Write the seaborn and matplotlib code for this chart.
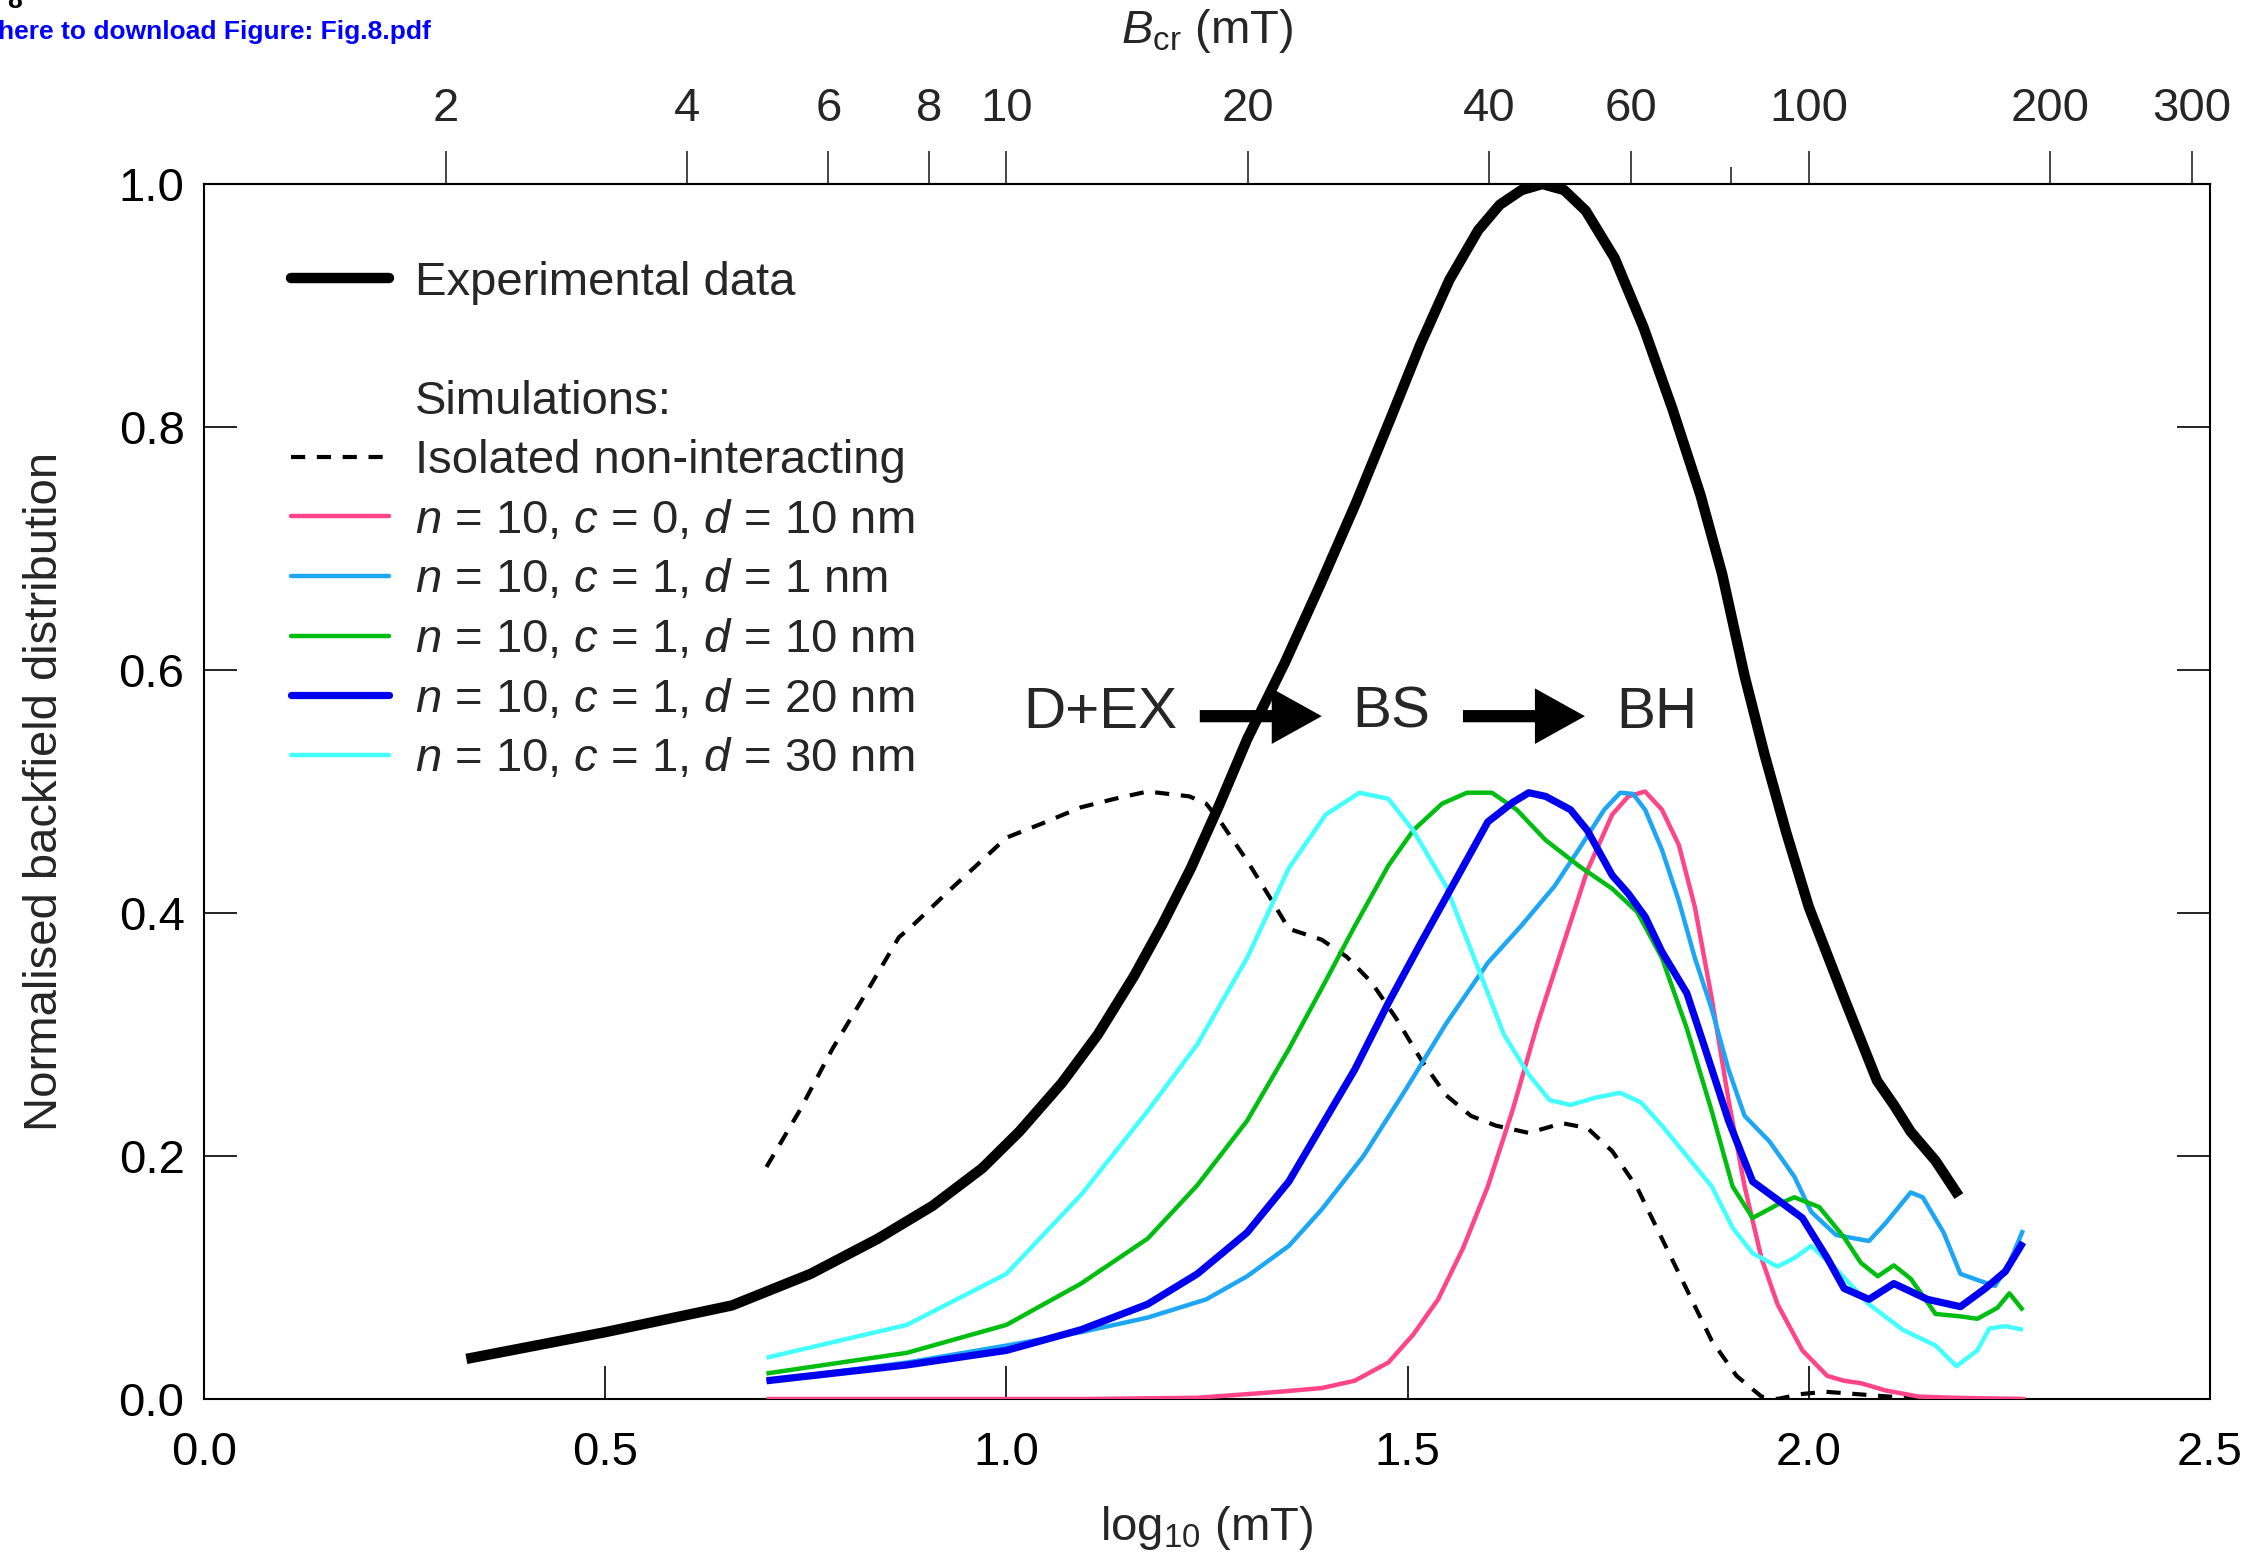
import numpy as np
import pandas as pd
import matplotlib
matplotlib.use("Agg")
import matplotlib.pyplot as plt
import seaborn as sns
from matplotlib.lines import Line2D
from matplotlib.ticker import FixedLocator, NullFormatter, FormatStrFormatter

# ---------------- data (x = log10 of field in mT) ----------------
exp_x = [0.327, 0.5, 0.658, 0.756, 0.84, 0.908, 0.97, 1.016, 1.069, 1.114, 1.159, 1.194,
         1.23, 1.266, 1.30, 1.347, 1.391, 1.436, 1.48, 1.516, 1.552, 1.588, 1.615, 1.642,
         1.668, 1.695, 1.722, 1.758, 1.794, 1.83, 1.865, 1.892, 1.92, 1.945, 1.972, 2.0,
         2.044, 2.085, 2.106, 2.127, 2.158, 2.187]
exp_y = [0.033, 0.055, 0.077, 0.103, 0.132, 0.159, 0.19, 0.22, 0.26, 0.30, 0.348, 0.39,
         0.437, 0.49, 0.543, 0.606, 0.67, 0.738, 0.809, 0.868, 0.921, 0.962, 0.983, 0.995,
         1.0, 0.995, 0.978, 0.939, 0.882, 0.815, 0.744, 0.679, 0.595, 0.53, 0.466, 0.405,
         0.33, 0.262, 0.242, 0.22, 0.196, 0.167]

iso_x = [0.701, 0.742, 0.783, 0.825, 0.866, 0.882, 0.928, 0.969, 1.0, 1.042, 1.093, 1.135,
         1.176, 1.228, 1.249, 1.269, 1.3, 1.331, 1.352, 1.393, 1.424, 1.455, 1.486, 1.517,
         1.548, 1.579, 1.61, 1.651, 1.693, 1.724, 1.755, 1.786, 1.817, 1.848, 1.879, 1.91,
         1.941, 1.961, 1.99, 2.02, 2.06, 2.1, 2.15, 2.2, 2.27]
iso_y = [0.191, 0.237, 0.288, 0.334, 0.380, 0.389, 0.418, 0.443, 0.462, 0.473, 0.487, 0.494,
         0.5, 0.496, 0.49, 0.473, 0.443, 0.41, 0.387, 0.378, 0.364, 0.343, 0.313, 0.279,
         0.25, 0.233, 0.225, 0.219, 0.227, 0.223, 0.204, 0.174, 0.132, 0.09, 0.048, 0.019,
         0.002, 0.0, 0.004, 0.006, 0.004, 0.002, 0.001, 0.0, 0.0]

c0d10_x = [0.701, 0.9, 1.0, 1.1, 1.238, 1.341, 1.393, 1.434, 1.476, 1.507, 1.538, 1.569,
           1.6, 1.631, 1.662, 1.693, 1.724, 1.755, 1.775, 1.796, 1.817, 1.838, 1.858, 1.879,
           1.9, 1.92, 1.941, 1.961, 1.992, 2.023, 2.044, 2.065, 2.096, 2.137, 2.18, 2.27]
c0d10_y = [0.0, 0.0, 0.0, 0.0, 0.001, 0.006, 0.009, 0.015, 0.03, 0.053, 0.082, 0.124,
           0.175, 0.238, 0.309, 0.372, 0.435, 0.481, 0.496, 0.5, 0.485, 0.456, 0.405, 0.33,
           0.246, 0.175, 0.116, 0.078, 0.04, 0.019, 0.015, 0.013, 0.007, 0.002, 0.001, 0.0]

c1d1_x = [0.701, 0.876, 1.0, 1.093, 1.176, 1.249, 1.3, 1.352, 1.393, 1.445, 1.497, 1.548,
          1.6, 1.641, 1.683, 1.713, 1.745, 1.765, 1.781, 1.796, 1.817, 1.838, 1.858, 1.879,
          1.9, 1.92, 1.951, 1.982, 2.003, 2.034, 2.075, 2.096, 2.127, 2.142, 2.168, 2.189,
          2.21, 2.232, 2.25, 2.267]
c1d1_y = [0.015, 0.03, 0.044, 0.055, 0.067, 0.082, 0.101, 0.126, 0.156, 0.2, 0.254, 0.309,
          0.359, 0.389, 0.422, 0.452, 0.485, 0.499, 0.498, 0.485, 0.452, 0.41, 0.363, 0.321,
          0.271, 0.233, 0.212, 0.183, 0.154, 0.135, 0.13, 0.145, 0.17, 0.166, 0.137, 0.103,
          0.098, 0.093, 0.112, 0.139]

c1d10_x = [0.701, 0.876, 1.0, 1.093, 1.176, 1.238, 1.3, 1.352, 1.393, 1.434, 1.476, 1.507,
           1.543, 1.574, 1.605, 1.636, 1.672, 1.713, 1.755, 1.786, 1.817, 1.848, 1.879, 1.905,
           1.93, 1.961, 1.982, 2.013, 2.044, 2.065, 2.086, 2.106, 2.127, 2.158, 2.189, 2.21,
           2.235, 2.25, 2.267]
c1d10_y = [0.021, 0.038, 0.061, 0.095, 0.132, 0.176, 0.229, 0.288, 0.338, 0.389, 0.439, 0.468,
           0.49, 0.499, 0.499, 0.485, 0.46, 0.439, 0.42, 0.401, 0.363, 0.305, 0.237, 0.175,
           0.149, 0.16, 0.166, 0.158, 0.133, 0.112, 0.101, 0.11, 0.099, 0.07, 0.068, 0.066,
           0.075, 0.087, 0.073]

c1d20_x = [0.701, 0.876, 1.0, 1.093, 1.176, 1.238, 1.3, 1.352, 1.393, 1.434, 1.476, 1.517,
           1.559, 1.6, 1.631, 1.651, 1.672, 1.703, 1.724, 1.755, 1.775, 1.796, 1.817, 1.848,
           1.869, 1.9, 1.93, 1.961, 1.992, 2.023, 2.044, 2.075, 2.106, 2.148, 2.189, 2.22,
           2.245, 2.267]
c1d20_y = [0.015, 0.028, 0.04, 0.057, 0.078, 0.103, 0.137, 0.179, 0.225, 0.271, 0.326, 0.376,
           0.426, 0.475, 0.491, 0.499, 0.496, 0.485, 0.468, 0.431, 0.416, 0.397, 0.368, 0.334,
           0.292, 0.229, 0.179, 0.164, 0.149, 0.116, 0.091, 0.082, 0.095, 0.082, 0.076, 0.091,
           0.105, 0.129]

c1d30_x = [0.701, 0.876, 1.0, 1.093, 1.176, 1.238, 1.3, 1.352, 1.398, 1.44, 1.476, 1.507,
           1.548, 1.59, 1.62, 1.651, 1.677, 1.703, 1.734, 1.765, 1.791, 1.817, 1.848, 1.879,
           1.905, 1.93, 1.961, 1.982, 2.003, 2.034, 2.075, 2.117, 2.158, 2.184, 2.21, 2.225,
           2.245, 2.267]
c1d30_y = [0.034, 0.061, 0.103, 0.168, 0.237, 0.292, 0.363, 0.437, 0.481, 0.499, 0.494, 0.468,
           0.422, 0.351, 0.3, 0.267, 0.246, 0.242, 0.248, 0.252, 0.244, 0.225, 0.2, 0.175,
           0.141, 0.12, 0.109, 0.116, 0.126, 0.107, 0.078, 0.057, 0.044, 0.027, 0.04, 0.058,
           0.06, 0.057]

x_ticks = [0.0, 0.5, 1.0, 1.5, 2.0, 2.5]
y_ticks = [0.0, 0.2, 0.4, 0.6, 0.8, 1.0]
top_ticks = [2, 4, 6, 8, 10, 20, 40, 60, 100, 200, 300]
top_minor = [80]

labels = ["Experimental data", "Isolated non-interacting",
          "$n$ = 10, $c$ = 0, $d$ = 10 nm", "$n$ = 10, $c$ = 1, $d$ = 1 nm",
          "$n$ = 10, $c$ = 1, $d$ = 10 nm", "$n$ = 10, $c$ = 1, $d$ = 20 nm",
          "$n$ = 10, $c$ = 1, $d$ = 30 nm"]
colors = ["#000000", "#000000", "#FF4488", "#1EA6F6", "#00BE10", "#0000EE", "#44FFFF"]

# ---------------- style ----------------
sns.set_style("ticks")
plt.rcParams['font.family'] = ['Liberation Sans', 'DejaVu Sans']
plt.rcParams['mathtext.fontset'] = 'custom'
plt.rcParams['mathtext.rm'] = 'Liberation Sans'
plt.rcParams['mathtext.it'] = 'Liberation Sans:italic'
plt.rcParams['mathtext.bf'] = 'Liberation Sans:bold'

FS = 34
fig = plt.figure(figsize=(22.5, 15.56), dpi=100)
ax = fig.add_axes([0.09067, 0.10090, 0.89155, 0.78085])

series = [(exp_x, exp_y), (iso_x, iso_y), (c0d10_x, c0d10_y), (c1d1_x, c1d1_y),
          (c1d10_x, c1d10_y), (c1d20_x, c1d20_y), (c1d30_x, c1d30_y)]
widths = [7.5, 3.0, 3.2, 3.2, 3.2, 5.2, 3.2]
styles = ['-', (0, (3.4, 2.8)), '-', '-', '-', '-', '-']
order = [1, 2, 3, 4, 6, 5, 0]
for i in order:
    sx, sy = series[i]
    sns.lineplot(x=sx, y=sy, ax=ax, color=colors[i], lw=widths[i], linestyle=styles[i],
                 sort=False, estimator=None, legend=False,
                 solid_capstyle='butt', dash_capstyle='butt', zorder=3 + (1 if i == 0 else 0))

ax.set_xlim(0, 2.5)
ax.set_ylim(0, 1.0)
ax.set_xticks(x_ticks)
ax.set_yticks(y_ticks)
ax.xaxis.set_major_formatter(FormatStrFormatter('%.1f'))
ax.yaxis.set_major_formatter(FormatStrFormatter('%.1f'))
for s in ax.spines.values():
    s.set_linewidth(1.5)
    s.set_color('black')
ax.tick_params(axis='x', direction='in', length=24, width=1.2, top=False, bottom=True,
               labelsize=FS, pad=23, colors='black')
ax.tick_params(axis='y', direction='in', length=24, width=1.2, left=True, right=True,
               labelsize=FS, pad=14, colors='black')
ax.set_xlabel("log$_{10}$ (mT)", fontsize=FS, labelpad=21)
ax.set_ylabel("Normalised backfield distribution", fontsize=FS, labelpad=37)

sec = ax.secondary_xaxis('top', functions=(lambda v: 10 ** np.asarray(v),
                                            lambda b: np.log10(np.clip(np.asarray(b, dtype=float), 1e-9, None))))
sec.set_xticks(top_ticks)
sec.set_xticklabels([str(t) for t in top_ticks])
sec.xaxis.set_minor_locator(FixedLocator(top_minor))
sec.xaxis.set_minor_formatter(NullFormatter())
sec.tick_params(axis='x', which='major', direction='out', length=24, width=1.2,
                labelsize=FS, pad=14)
sec.tick_params(axis='x', which='minor', direction='out', length=12, width=1.2)
sec.spines['top'].set_linewidth(1.5)
sec.set_xlabel("$B_{\\mathrm{cr}}$ (mT)", fontsize=FS, labelpad=32)

# legend
handles = [Line2D([], [], color=colors[0], lw=widths[0]),
           Line2D([], [], color='none'),
           Line2D([], [], color='none')]
leg_labels = [labels[0], " ", "Simulations:"]
for i in range(1, 7):
    handles.append(Line2D([], [], color=colors[i], lw=widths[i], linestyle=styles[i],
                          dash_capstyle='butt'))
    leg_labels.append(labels[i])
ax.legend(handles, leg_labels, loc='upper left', bbox_to_anchor=(0.0434, 0.937),
          frameon=False, fontsize=FS, handlelength=2.07, handletextpad=0.55,
          labelspacing=0.33, borderpad=0, borderaxespad=0)

# annotations
narrow = ['Liberation Sans Narrow', 'Liberation Sans', 'DejaVu Sans']
ann_y = 0.565
for xt, t in [(1.117, "D+EX"), (1.479, "BS"), (1.811, "BH")]:
    ax.text(xt, ann_y, t, ha='center', va='center', fontsize=42, family=narrow)
for x0, x1 in [(1.241, 1.393), (1.569, 1.721)]:
    ax.annotate("", xy=(x1, ann_y - 0.003), xytext=(x0, ann_y - 0.003),
                arrowprops=dict(arrowstyle='simple,head_length=0.9,head_width=1.0,tail_width=0.22',
                                lw=0, fc='black', ec='black', mutation_scale=40,
                                shrinkA=0, shrinkB=0))

# header fragments
fig.text(-2 / 2250, 1 - 39 / 1556, "here to download Figure: Fig.8.pdf", color='#0000FF',
         fontweight='bold', fontsize=19, ha='left', va='baseline')
fig.text(23 / 2250, 1 - 8 / 1556, "Figure 8", color='black', fontweight='bold',
         fontsize=19, ha='right', va='baseline')

fig.savefig("out.png", dpi=100)
